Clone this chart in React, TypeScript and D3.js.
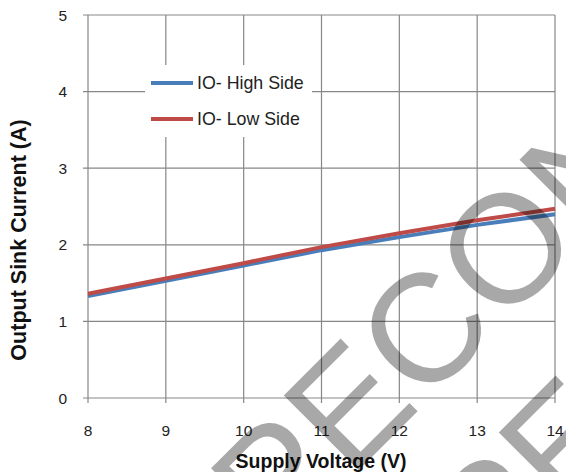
import React from "react";
import * as d3 from "d3";

const voltages = [8, 9, 10, 11, 12, 13, 14];
const highSide = [1.33, 1.53, 1.73, 1.93, 2.1, 2.26, 2.4];
const lowSide = [1.36, 1.56, 1.76, 1.97, 2.15, 2.32, 2.47];
const xTicks = [8, 9, 10, 11, 12, 13, 14];
const yTicks = [0, 1, 2, 3, 4, 5];
const seriesNames = ["IO- High Side", "IO- Low Side"];
const seriesColors = ["#4a7ebb", "#be4b48"];
const watermarkText = "PECON";

const W = 566;
const H = 472;

export default function App() {
  const x = d3.scaleLinear().domain([8, 14]).range([88, 555]);
  const y = d3.scaleLinear().domain([0, 5]).range([398, 15]);
  const line = d3
    .line<number>()
    .x((_, i) => x(voltages[i]))
    .y((d) => y(d));
  const series = [highSide, lowSide];
  const grid = "#878787";
  const font = "'Liberation Sans', Arial, sans-serif";
  const lx0 = 145, lx1 = 312, ly0 = 65, ly1 = 137;
  return (
    <svg
      width={W}
      height={H}
      style={{ position: "absolute", left: 0, top: 0, background: "#fff" }}
      fontFamily={font}
    >
      <rect x={0} y={0} width={W} height={H} fill="#fff" />
      {/* gridlines */}
      {xTicks.map((t) => (
        <line key={"vx" + t} x1={x(t)} x2={x(t)} y1={y(5)} y2={y(0) + 5} stroke={grid} strokeWidth={1.2} />
      ))}
      {yTicks.map((t) => (
        <line key={"hy" + t} x1={x(8) - 5} x2={x(14)} y1={y(t)} y2={y(t)} stroke={grid} strokeWidth={1.2} />
      ))}
      {/* legend background */}
      <rect x={lx0} y={ly0} width={lx1 - lx0} height={ly1 - ly0} fill="#fff" />
      {/* series */}
      {series.map((s, i) => (
        <path key={"s" + i} d={line(s) || ""} fill="none" stroke={seriesColors[i]} strokeWidth={4} strokeLinejoin="round" />
      ))}
      {/* legend */}
      {seriesNames.map((n, i) => (
        <g key={"lg" + i}>
          <line x1={151} x2={193} y1={83 + i * 36} y2={83 + i * 36} stroke={seriesColors[i]} strokeWidth={4} />
          <text x={197} y={83 + i * 36} dy="0.36em" fontSize={17.8} fill="#222">
            {n}
          </text>
        </g>
      ))}
      {/* tick labels */}
      {xTicks.map((t) => (
        <text key={"xl" + t} x={x(t)} y={430} dy="0.36em" textAnchor="middle" fontSize={15.5} fill="#222">
          {t}
        </text>
      ))}
      {yTicks.map((t) => (
        <text key={"yl" + t} x={67} y={y(t)} dy="0.36em" textAnchor="end" fontSize={15.5} fill="#222">
          {t}
        </text>
      ))}
      {/* axis titles */}
      <text x={321} y={461} dy="0.36em" textAnchor="middle" fontSize={19.5} fontWeight="bold" fill="#111">
        Supply Voltage (V)
      </text>
      <text
        transform={`translate(18,240) rotate(-90)`}
        dy="0.36em"
        textAnchor="middle"
        fontSize={21.5}
        fontWeight="bold"
        fill="#111"
      >
        Output Sink Current (A)
      </text>
      {/* watermark */}
      <g fill="#000" fillOpacity={0.34} fontFamily={font} fontSize={154}>
        <text transform="translate(277,552) rotate(-45)">{watermarkText}</text>
        <text transform="translate(492,589) rotate(-45)">{watermarkText}</text>
      </g>
    </svg>
  );
}
